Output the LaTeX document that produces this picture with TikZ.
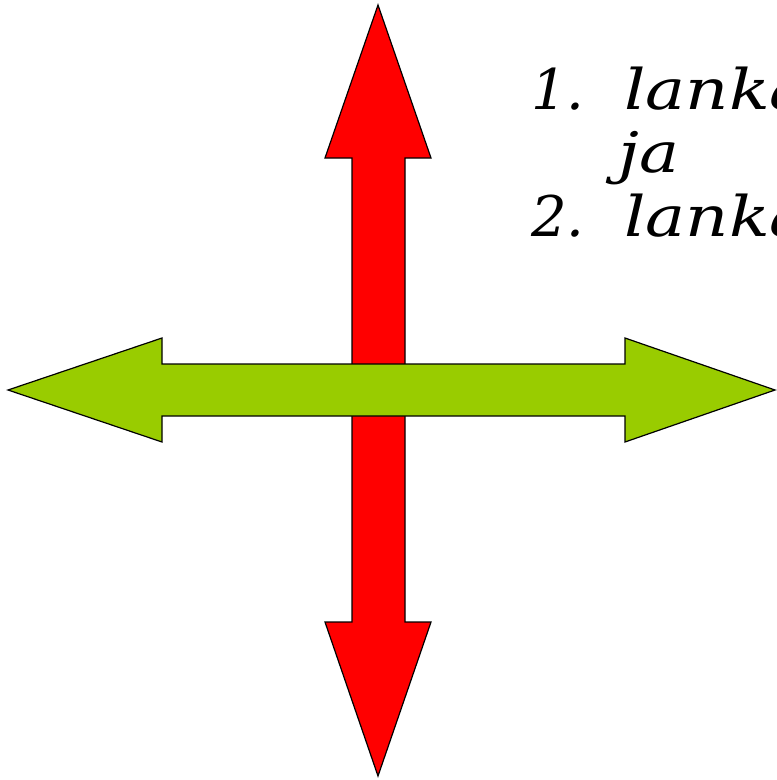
\documentclass[tikz,border=0pt]{standalone}
\usepackage{fontspec}
\setmainfont{DejaVu Serif}
\newfontfamily\handfont[FakeStretch=1.2]{DejaVu Serif}
\begin{document}
\begin{tikzpicture}[x=1pt,y=-1pt,
  arrowshape/.style={draw=black,line width=1.2pt,line join=miter},
  handtext/.style={font=\handfont\fontsize{56}{64}\selectfont\itshape,inner sep=0pt,anchor=base west},
  numtext/.style={font=\fontsize{56}{64}\selectfont\itshape,inner sep=0pt,anchor=base west}]
\useasboundingbox (0,0) rectangle (777,780);
\clip (0,0) rectangle (777,780);
% red vertical double arrow
\draw[arrowshape,fill={rgb,255:red,255;green,0;blue,0}]
  (378,5) -- (431,158) -- (405,158) -- (405,622) -- (431,622) -- (378,776)
  -- (325,622) -- (352,622) -- (352,158) -- (325,158) -- cycle;
% green horizontal double arrow
\draw[arrowshape,fill={rgb,255:red,153;green,204;blue,0}]
  (8,390) -- (162,338) -- (162,364) -- (625,364) -- (625,338) -- (775,390)
  -- (625,442) -- (625,416) -- (162,416) -- (162,442) -- cycle;
% text
\node[numtext] (n1) at (531,109) {1.};
\node[handtext] (w1) at (624,109) {lanka};
\node[handtext] (w2) at (618,172) {ja};
\node[numtext] (n2) at (531,236) {2.};
\node[handtext] (w3) at (624,236) {lanka};
\end{tikzpicture}
\end{document}
